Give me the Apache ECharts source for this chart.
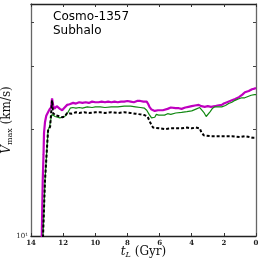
<!DOCTYPE html>
<html>
<head>
<meta charset="utf-8">
<script src="https://cdn.jsdelivr.net/npm/echarts@6/dist/echarts.min.js"></script>
<style>
html,body{margin:0;padding:0;background:#fff;}
#c{width:262px;height:262px;}
</style>
</head>
<body>
<div id="c"></div>
<script>
// ---- data (lookback time in Gyr, Vmax in km/s) ----
var magentaT = [13.40,13.33,13.30,13.27,13.22,13.19,13.13,13.05,12.94,12.85,12.75,12.69,12.62,12.55,12.50,12.40,12.31,12.20,12.06,11.95,11.85,11.75,11.60,11.38,11.20,11.00,10.80,10.60,10.40,10.20,10.00,9.80,9.60,9.40,9.20,9.00,8.80,8.60,8.40,8.20,8.00,7.80,7.60,7.40,7.20,7.00,6.90,6.80,6.70,6.63,6.50,6.38,6.30,6.20,6.10,6.00,5.80,5.69,5.50,5.40,5.30,5.20,5.00,4.80,4.63,4.40,4.20,4.00,3.80,3.56,3.40,3.19,3.00,2.80,2.56,2.40,2.13,2.00,1.80,1.50,1.30,1.06,0.85,0.69,0.45,0.25,0.10,0.00];
var magentaV = [9.5,10.0,12.0,14.3,17.0,19.5,20.9,21.8,22.3,22.7,23.0,24.4,23.3,22.8,22.9,23.2,23.0,22.8,22.6,22.9,23.1,23.4,23.5,23.7,23.6,23.8,23.7,23.8,23.7,23.9,23.8,23.8,23.9,23.8,23.9,23.8,23.9,23.8,23.9,23.9,24.0,23.9,23.8,24.0,24.0,23.9,24.1,23.9,23.5,23.1,22.7,22.6,22.5,22.7,22.6,22.7,22.6,22.6,22.8,22.7,23.0,22.8,22.9,22.9,22.8,23.0,23.1,23.2,23.3,23.4,23.2,23.1,23.2,23.1,23.2,23.3,23.4,23.6,23.8,24.1,24.3,24.6,25.0,25.4,25.6,25.9,26.0,26.1];

var greenT = [13.45,13.25,13.13,12.94,12.85,12.75,12.69,12.63,12.50,12.38,12.20,12.06,11.90,11.80,11.70,11.56,11.40,11.20,11.00,10.80,10.50,10.20,10.00,9.69,9.40,9.00,8.60,8.20,7.80,7.50,7.20,6.94,6.80,6.65,6.50,6.40,6.30,6.20,6.06,5.90,5.69,5.50,5.30,5.00,4.63,4.30,4.00,3.70,3.50,3.38,3.25,3.10,3.00,2.85,2.70,2.56,2.30,2.13,1.90,1.70,1.50,1.30,1.10,0.88,0.70,0.50,0.30,0.10,0.00];
var greenV = [9.0,10.0,14.3,19.8,20.3,21.5,22.0,21.9,21.7,21.6,21.5,21.6,21.7,21.8,22.3,22.9,23.0,22.9,23.0,22.9,23.1,23.0,23.1,23.1,23.0,23.1,23.1,23.2,23.2,23.1,23.0,22.9,22.6,22.0,21.5,21.3,21.6,22.0,21.9,21.9,21.9,22.1,22.0,22.2,22.3,22.4,22.5,22.8,23.0,22.9,22.3,21.7,21.9,22.4,22.9,23.1,23.1,23.1,23.3,23.6,23.8,24.1,24.3,24.5,24.5,24.7,24.9,25.0,25.0];

var blackT = [13.45,13.25,13.13,12.94,12.81,12.69,12.63,12.50,12.38,12.20,12.06,11.90,11.75,11.50,11.20,11.00,10.70,10.40,10.00,9.69,9.40,9.00,8.60,8.20,7.81,7.50,7.20,6.94,6.75,6.63,6.50,6.40,6.31,6.00,5.69,5.30,5.00,4.63,4.30,4.00,3.75,3.50,3.40,3.25,3.19,2.80,2.40,2.00,1.50,1.00,0.69,0.40,0.20,0.06,0.00];
var blackV = [9.0,10.0,14.3,19.8,20.3,24.1,22.2,21.9,21.9,21.7,21.6,21.7,22.2,22.1,22.3,22.2,22.3,22.2,22.3,22.3,22.2,22.3,22.2,22.3,22.2,22.1,22.0,21.9,21.7,21.6,20.5,20.2,20.1,20.1,20.0,20.1,20.1,20.1,20.2,20.1,20.2,20.1,19.6,19.2,19.1,19.1,19.1,19.1,19.1,19.0,19.1,19.0,18.9,18.9,18.8];

var xTicks = [0, 2, 4, 6, 8, 10, 12, 14];
var yMinorTicks = [20, 30, 40];
var yLabelTicks = [10];
var titleLines = ['Cosmo-1357', 'Subhalo'];

function pairs(t, v) { return t.map(function (x, i) { return [x, v[i]]; }); }

var serif = '"DejaVu Serif", "Liberation Serif", serif';

function xAxisCfg(pos, labels) {
  return {
    type: 'value', min: 0, max: 14, interval: 2, inverse: true, position: pos,
    axisLine: { show: true, onZero: false, lineStyle: { color: '#222', width: 1.3 } },
    axisTick: { show: true, inside: true, length: 3, lineStyle: { color: '#333' } },
    axisLabel: { show: labels, fontSize: 7, color: '#222', margin: 4, fontFamily: serif, fontWeight: 'bold' },
    splitLine: { show: false },
    name: labels ? '{it|t}{sub|L} (Gyr)' : '',
    nameLocation: 'middle', nameGap: 9, nameMoveOverlap: false,
    nameTextStyle: { fontFamily: serif, fontSize: 12, color: '#111',
      rich: { it: { fontFamily: serif, fontStyle: 'italic', fontSize: 12 },
              sub: { fontFamily: serif, fontStyle: 'italic', fontSize: 8, padding: [6, 0, 0, 0] } } }
  };
}
function yAxisCfg(pos, labels) {
  return {
    type: 'log', logBase: 10, min: 10, max: 45, position: pos,
    axisLine: { show: true, onZero: false, lineStyle: { color: '#666', width: 1.3 } },
    axisTick: { show: true, inside: true, length: 3, lineStyle: { color: '#444' }, customValues: yMinorTicks },
    axisLabel: { show: labels, fontSize: 7, color: '#222', margin: 3, fontFamily: serif,
      customValues: yLabelTicks, formatter: function () { return '10\u00B9'; } },
    splitLine: { show: false },
    name: labels ? '{it|V}{sub|max} (km/s)' : '',
    nameLocation: 'middle', nameGap: 17, nameRotate: 90, nameMoveOverlap: false,
    nameTextStyle: { fontFamily: serif, fontSize: 12, color: '#111',
      rich: { it: { fontFamily: serif, fontStyle: 'italic', fontSize: 12 },
              sub: { fontFamily: serif, fontSize: 8, padding: [6, 0, 0, 0] } } }
  };
}

var chart = echarts.init(document.getElementById('c'), null, { renderer: 'canvas' });
chart.setOption({
  animation: false,
  backgroundColor: '#fff',
  grid: { left: 31, right: 6, top: 4, bottom: 26, containLabel: false, outerBoundsMode: 'none' },
  xAxis: [xAxisCfg('bottom', true), xAxisCfg('top', false)],
  yAxis: [yAxisCfg('left', true), yAxisCfg('right', false)],
  graphic: [{
    type: 'text', left: 53, top: 10,
    style: { text: titleLines.join('\n'), font: '12px "DejaVu Sans", sans-serif', fill: '#000', lineHeight: 14 }
  }],
  series: [
    { type: 'line', name: 'magenta', data: pairs(magentaT, magentaV), showSymbol: false, clip: true,
      lineStyle: { color: '#bf00bf', width: 2.2 }, z: 3 },
    { type: 'line', name: 'green', data: pairs(greenT, greenV), showSymbol: false, clip: true,
      lineStyle: { color: '#118811', width: 1.2 }, z: 4 },
    { type: 'line', name: 'black', data: pairs(blackT, blackV), showSymbol: false, clip: true,
      lineStyle: { color: '#000', width: 2, type: [3, 2] }, z: 5 }
  ]
});
</script>
</body>
</html>
